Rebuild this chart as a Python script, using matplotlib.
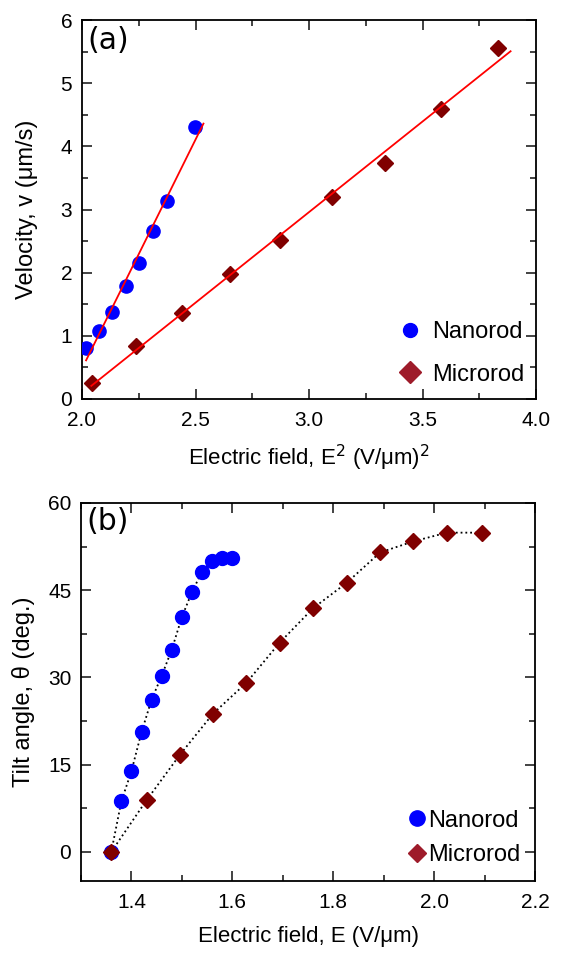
import numpy as np
import matplotlib
matplotlib.use("Agg")
import matplotlib.pyplot as plt
from matplotlib.lines import Line2D
from matplotlib.ticker import MultipleLocator

plt.rcParams['font.family'] = ['Liberation Sans', 'DejaVu Sans']

# ---- Panel (a): velocity vs E^2 ----
nano_E2 = [2.018, 2.073, 2.132, 2.194, 2.251, 2.313, 2.373, 2.497]
nano_v = [0.80, 1.07, 1.37, 1.79, 2.15, 2.66, 3.13, 4.30]
micro_E2 = [2.044, 2.239, 2.442, 2.653, 2.872, 3.101, 3.335, 3.582, 3.834]
micro_v = [0.26, 0.84, 1.36, 1.98, 2.52, 3.20, 3.74, 4.59, 5.56]
nano_fit_range = [2.018, 2.535]
micro_fit_range = [2.041, 3.888]

# ---- Panel (b): tilt angle vs E ----
nano_E = [1.36, 1.38, 1.40, 1.42, 1.44, 1.46, 1.48, 1.50, 1.52, 1.54, 1.56, 1.58, 1.60]
nano_theta = [0.0, 8.7, 13.9, 20.6, 26.2, 30.3, 34.8, 40.4, 44.7, 48.2, 50.1, 50.5, 50.5]
micro_E = [1.36, 1.430, 1.496, 1.562, 1.628, 1.694, 1.760, 1.827, 1.893, 1.959, 2.025, 2.094]
micro_theta = [0.0, 8.9, 16.7, 23.8, 29.1, 36.0, 41.9, 46.3, 51.5, 53.4, 54.9, 54.9]

labels = ['Nanorod', 'Microrod']
blue = '#0000FF'
dred = '#800000'
leg_red = '#9E1B2A'

fig = plt.figure(figsize=(5.61, 9.59), dpi=100)
ax1 = fig.add_axes([82/561, 1-399/959, 454/561, 379/959])
ax2 = fig.add_axes([81/561, 1-881/959, 454/561, 378/959])

# panel a
ax1.plot(nano_E2, nano_v, 'o', color=blue, ms=9.5, mec=blue, zorder=3)
ax1.plot(micro_E2, micro_v, 'D', color=dred, ms=8.5, mec=dred, zorder=3)
for xs, ys, rng in [(nano_E2, nano_v, nano_fit_range), (micro_E2, micro_v, micro_fit_range)]:
    p = np.polyfit(xs, ys, 1)
    xx = np.array(rng)
    ax1.plot(xx, np.polyval(p, xx), '-', color='red', lw=1.3, zorder=4)
ax1.set_xlim(2.0, 4.0)
ax1.set_ylim(0, 6)
ax1.xaxis.set_major_locator(MultipleLocator(0.5))
ax1.xaxis.set_minor_locator(MultipleLocator(0.25))
ax1.yaxis.set_major_locator(MultipleLocator(1))
ax1.yaxis.set_minor_locator(MultipleLocator(0.5))
ax1.set_xticks([2.0, 2.5, 3.0, 3.5, 4.0])
ax1.set_xticklabels(['2.0', '2.5', '3.0', '3.5', '4.0'])
ax1.set_xlabel('Electric field, E$^{2}$ (V/μm)$^{2}$', fontsize=16, labelpad=9)
ax1.set_ylabel('Velocity, v (μm/s)', fontsize=17, labelpad=16)
ax1.text(0.012, 0.985, '(a)', transform=ax1.transAxes, ha='left', va='top',
         fontsize=21.5, family='DejaVu Sans')

# panel b
ax2.plot(nano_E, nano_theta, ':', color='black', lw=1.3, zorder=2)
ax2.plot(micro_E, micro_theta, ':', color='black', lw=1.3, zorder=2)
ax2.plot(nano_E, nano_theta, 'o', color=blue, ms=10, mec=blue, zorder=3)
ax2.plot(micro_E, micro_theta, 'D', color=dred, ms=8.5, mec=dred, zorder=3)
ax2.set_xlim(1.3, 2.2)
ax2.set_ylim(-5, 60)
ax2.xaxis.set_major_locator(MultipleLocator(0.2))
ax2.xaxis.set_minor_locator(MultipleLocator(0.1))
ax2.yaxis.set_major_locator(MultipleLocator(15))
ax2.yaxis.set_minor_locator(MultipleLocator(7.5))
ax2.set_xticks([1.4, 1.6, 1.8, 2.0, 2.2])
ax2.set_xticklabels(['1.4', '1.6', '1.8', '2.0', '2.2'])
ax2.set_xlabel('Electric field, E (V/μm)', fontsize=16, labelpad=10)
ax2.set_ylabel('Tilt angle, θ (deg.)', fontsize=17, labelpad=9)
ax2.text(0.012, 0.99, '(b)', transform=ax2.transAxes, ha='left', va='top',
         fontsize=21.5, family='DejaVu Sans')

for ax in (ax1, ax2):
    for s in ax.spines.values():
        s.set_linewidth(1.3)
    ax.tick_params(which='both', direction='in', top=True, right=True,
                   labelsize=15, width=1.2, color='#222222')
    ax.tick_params(which='major', length=7, pad=7)
    ax.tick_params(which='minor', length=4)
    ax.tick_params(axis='x', which='major', pad=9)

h1 = [Line2D([], [], marker='o', ls='none', color=blue, ms=10),
      Line2D([], [], marker='D', ls='none', color=leg_red, ms=11)]
ax1.legend(h1, labels, loc='lower right', frameon=False, fontsize=17,
           handletextpad=0.2, labelspacing=0.88, handlelength=1.5,
           bbox_to_anchor=(1.022, -0.021))
h2 = [Line2D([], [], marker='o', ls='none', color=blue, ms=11),
      Line2D([], [], marker='D', ls='none', color=leg_red, ms=9)]
ax2.legend(h2, labels, loc='lower right', frameon=False, fontsize=17,
           handletextpad=-0.1, labelspacing=0.52, handlelength=1.2,
           bbox_to_anchor=(1.015, -0.016))

fig.savefig('out.png', dpi=100)
